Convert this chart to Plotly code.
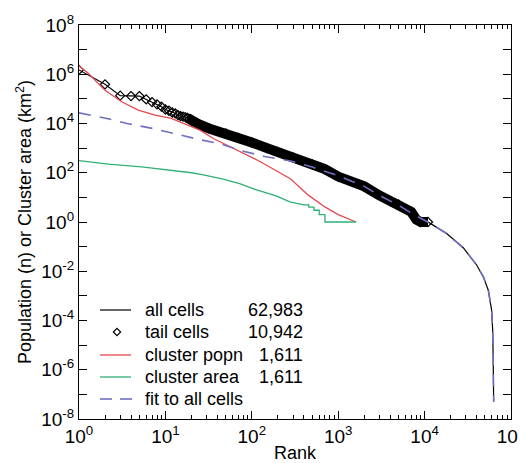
import plotly.graph_objects as go

# ---- data ----
# tail cells (ranks 1..10,942): individual cells at the top, then the dense band
tail_rank = [1, 2, 3, 4, 5, 6, 7, 8, 9, 10, 11, 12, 13, 14, 15, 16, 17, 18, 19, 20,
             25, 32, 50, 70, 100, 150, 200, 300, 500, 700, 1000, 2000, 3000, 5000,
             7000, 8000, 9000, 10942]
tail_n = [1.5e6, 3.9e5, 1.35e5, 1.3e5, 1.3e5, 9.5e4, 7.4e4, 6.0e4, 4.8e4, 3.7e4,
          3.3e4, 2.8e4, 2.6e4, 2.2e4, 2.0e4, 1.9e4, 1.8e4, 1.7e4, 1.5e4, 1.3e4,
          8.9e3, 6.3e3, 4.0e3, 2.6e3, 1.7e3, 1.0e3, 7.0e2, 4.2e2, 2.2e2, 1.4e2,
          70, 28, 12, 5.2, 2.6, 1.26, 1.0, 1.0]

# remaining cells beyond the tail (ranks 10,942..62,983)
rest_rank = [11500, 18000, 28000, 40000, 47900, 54600, 59700, 61400, 62200, 62983]
rest_n = [0.9, 0.34, 0.09, 0.018, 5.9e-3, 1.7e-3, 2.6e-4, 4.0e-5, 3.0e-6, 5.0e-8]

# cluster population (1,611 clusters)
popn_rank = [1, 1.28, 2.0, 3.12, 4.85, 7.6, 11.7, 14.8, 20, 25.1, 35.9, 56, 87,
             126, 282, 447, 708, 1000, 1611]
popn_n = [2.2e6, 1.1e6, 2.24e5, 7.6e4, 3.5e4, 2.2e4, 1.6e4, 1.12e4, 7.1e3, 5.4e3,
          2.45e3, 1.12e3, 5.2e2, 2.8e2, 56, 12.6, 4.0, 2.0, 1.0]

# cluster area (1,611 clusters)
area_rank = [1, 2.19, 5.3, 12.9, 20, 27.5, 46.8, 72.4, 114, 195, 275, 398, 457, 457,
             525, 525, 603, 603, 702, 702, 1611]
area_n = [310, 224, 174, 125, 100, 82, 55, 36, 20, 11.2, 6.6, 5, 5, 4, 4, 3, 3, 2,
          2, 1, 1]

# fit to all cells
fit_rank = [1, 2.1, 3.6, 7.1, 13.5, 24.5, 45, 78, 141, 282, 500, 1000, 2000, 3000,
            5000, 7000, 11500, 18000, 28000, 40000, 47900, 54600, 59700, 61400,
            62200, 62983]
fit_n = [2.7e4, 1.6e4, 1.0e4, 6.3e3, 3.7e3, 2.24e3, 1.45e3, 7.6e2, 4.6e2, 3.0e2,
         1.7e2, 75, 28, 12, 4.8, 2.3, 0.9, 0.34, 0.09, 0.018, 5.9e-3, 1.7e-3,
         2.6e-4, 4.0e-5, 3.0e-6, 5.0e-8]

legend_labels = ["all cells", "tail cells", "cluster popn", "cluster area",
                 "fit to all cells"]
legend_counts = ["62,983", "10,942", "1,611", "1,611"]

x_ticks = [1, 10, 100, 1000, 10000, 100000]
x_ticktext = ["10<sup>0</sup>", "10<sup>1</sup>", "10<sup>2</sup>",
              "10<sup>3</sup>", "10<sup>4</sup>", "10<sup>5</sup>"]
y_ticks = [1e-8, 1e-6, 1e-4, 1e-2, 1, 1e2, 1e4, 1e6, 1e8]
y_ticktext = ["10<sup>-8</sup>", "10<sup>-6</sup>", "10<sup>-4</sup>",
              "10<sup>-2</sup>", "10<sup>0</sup>", "10<sup>2</sup>",
              "10<sup>4</sup>", "10<sup>6</sup>", "10<sup>8</sup>"]
y_minor = [1e-7, 1e-5, 1e-3, 1e-1, 10, 1e3, 1e5, 1e7]

FONT = "Liberation Sans, Arial, sans-serif"
BLACK = "black"
RED = "#e5484d"
GREEN = "#2fb074"
BLUE = "#6f6fc4"

all_rank = tail_rank + rest_rank
all_n = tail_n + rest_n
band_rank = [r for r in tail_rank if r >= 18]
band_n = [n for r, n in zip(tail_rank, tail_n) if r >= 18]

fig = go.Figure()
fig.add_trace(go.Scatter(x=all_rank, y=all_n, mode="lines", name="all cells",
                         line=dict(color=BLACK, width=1.2)))
fig.add_trace(go.Scatter(x=tail_rank, y=tail_n, mode="markers", name="tail cells",
                         marker=dict(symbol="diamond-open", size=7, color=BLACK,
                                     line=dict(width=1.2, color=BLACK))))
fig.add_trace(go.Scatter(x=band_rank, y=band_n, mode="lines", name="tail band",
                         line=dict(color=BLACK, width=10), hoverinfo="skip"))
fig.add_trace(go.Scatter(x=popn_rank, y=popn_n, mode="lines", name="cluster popn",
                         line=dict(color=RED, width=1.3)))
fig.add_trace(go.Scatter(x=area_rank, y=area_n, mode="lines", name="cluster area",
                         line=dict(color=GREEN, width=1.3)))
fig.add_trace(go.Scatter(x=fit_rank, y=fit_n, mode="lines", name="fit to all cells",
                         line=dict(color=BLUE, width=1.6, dash="12px,9px")))

# ---- figure geometry (page has an 8px body margin) ----
OFF = 8
W, H = 526 - OFF, 463 - OFF
PL, PR, PT, PB = 79, 511, 25, 419          # plot area in page pixels
L, R, T, B = PL - OFF, W - (PR - OFF), PT - OFF, H - (PB - OFF)
pw = PR - PL
ph = PB - PT


def px(xp):
    return (xp - PL) / pw


def py(yp):
    return (PB - yp) / ph


# ---- hand-built legend (paper coordinates) ----
rows = [310, 332, 355, 377, 399]
for lab, yrow in zip(legend_labels, rows):
    fig.add_annotation(xref="paper", yref="paper", x=px(143), y=py(yrow), text=lab,
                       showarrow=False, xanchor="left", yanchor="middle",
                       font=dict(family=FONT, size=18, color=BLACK))
for txt, yrow in zip(legend_counts, rows):
    fig.add_annotation(xref="paper", yref="paper", x=px(305), y=py(yrow), text=txt,
                       showarrow=False, xanchor="right", yanchor="middle",
                       font=dict(family=FONT, size=18, color=BLACK))

line_style = dict(type="line", xref="paper", yref="paper", layer="above")
fig.add_shape(**line_style, x0=px(100), x1=px(131), y0=py(rows[0]), y1=py(rows[0]),
              line=dict(color=BLACK, width=1.2))
fig.add_shape(**line_style, x0=px(100), x1=px(131), y0=py(rows[2]), y1=py(rows[2]),
              line=dict(color=RED, width=1.3))
fig.add_shape(**line_style, x0=px(100), x1=px(131), y0=py(rows[3]), y1=py(rows[3]),
              line=dict(color=GREEN, width=1.3))
fig.add_shape(**line_style, x0=px(100), x1=px(112), y0=py(rows[4]), y1=py(rows[4]),
              line=dict(color=BLUE, width=1.6))
fig.add_shape(**line_style, x0=px(120), x1=px(132), y0=py(rows[4]), y1=py(rows[4]),
              line=dict(color=BLUE, width=1.6))
cx, cy, d = 117, rows[1], 3.6
fig.add_shape(type="path", xref="paper", yref="paper", layer="above",
              path=(f"M {px(cx - d)},{py(cy)} L {px(cx)},{py(cy - d)} "
                    f"L {px(cx + d)},{py(cy)} L {px(cx)},{py(cy + d)} Z"),
              line=dict(color=BLACK, width=1.2), fillcolor="white")

axis_common = dict(showline=True, linecolor=BLACK, linewidth=1.2, mirror="allticks",
                   ticks="inside", ticklen=8, tickcolor=BLACK, showgrid=False,
                   zeroline=False, type="log", automargin=False)
fig.update_xaxes(**axis_common, range=[0, 5], tickvals=x_ticks, ticktext=x_ticktext,
                 tickfont=dict(family=FONT, size=19, color=BLACK),
                 minor=dict(ticks="inside", ticklen=4, tickcolor=BLACK,
                            dtick="D1", showgrid=False),
                 title=dict(text="Rank", font=dict(family=FONT, size=18, color=BLACK),
                            standoff=0))
fig.update_yaxes(**axis_common, range=[-8, 8], tickvals=y_ticks, ticktext=y_ticktext,
                 tickfont=dict(family=FONT, size=19, color=BLACK),
                 minor=dict(ticks="inside", ticklen=8, tickcolor=BLACK,
                            tickvals=y_minor, showgrid=False),
                 title=dict(text="Population (n) or Cluster area (km<sup>2</sup>)",
                            font=dict(family=FONT, size=18, color=BLACK), standoff=4))

fig.update_layout(
    width=W, height=H,
    margin=dict(l=L, r=R, t=T, b=B),
    plot_bgcolor="white", paper_bgcolor="white",
    font=dict(family=FONT, color=BLACK),
    showlegend=False,
)

fig.write_html("out.html")
